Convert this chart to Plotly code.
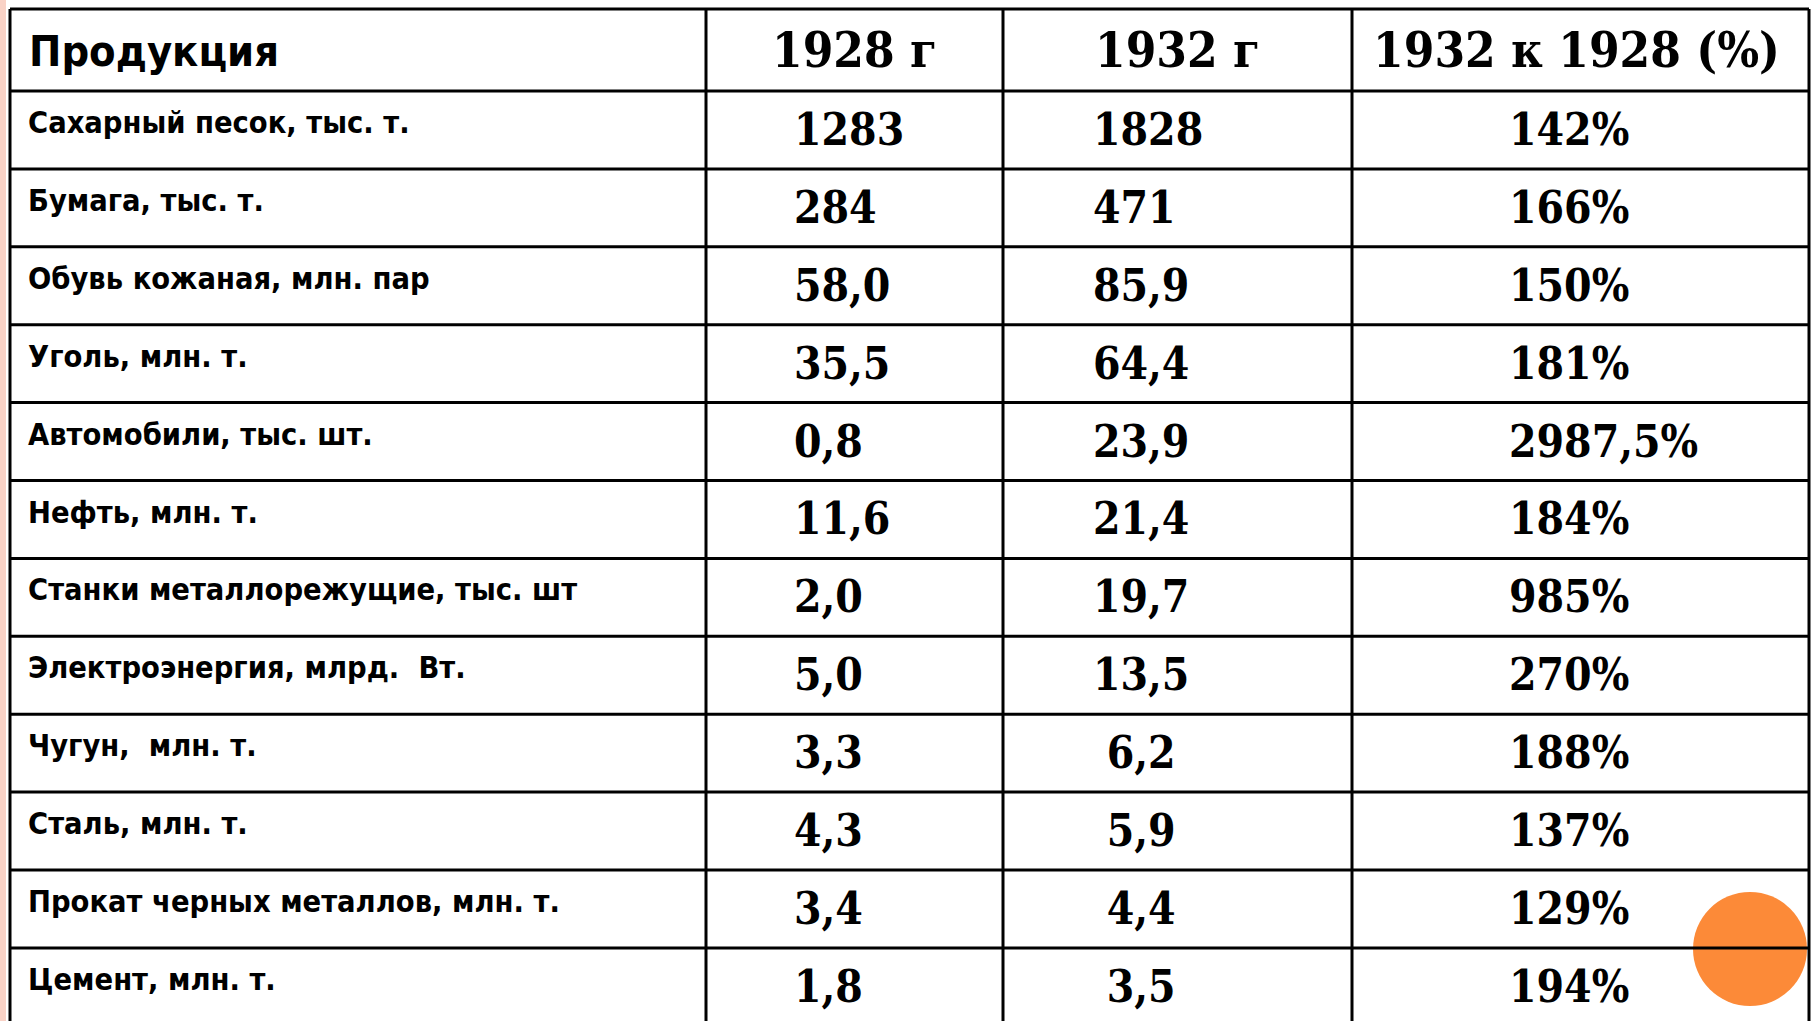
import plotly.graph_objects as go

# ---- data ----
header = ["Продукция", "1928 г", "1932 г", "1932 к 1928 (%)"]
products = [
    "Сахарный песок, тыс. т.",
    "Бумага, тыс. т.",
    "Обувь кожаная, млн. пар",
    "Уголь, млн. т.",
    "Автомобили, тыс. шт.",
    "Нефть, млн. т.",
    "Станки металлорежущие, тыс. шт",
    "Электроэнергия, млрд.  Вт.",
    "Чугун,  млн. т.",
    "Сталь, млн. т.",
    "Прокат черных металлов, млн. т.",
    "Цемент, млн. т.",
]
v1928 = ["1283", "284", "58,0", "35,5", "0,8", "11,6", "2,0", "5,0", "3,3", "4,3", "3,4", "1,8"]
v1932 = ["1828", "471", "85,9", "64,4", "23,9", "21,4", "19,7", "13,5", " 6,2", " 5,9", " 4,4", " 3,5"]
pct = ["142%", "166%", "150%", "181%", "2987,5%", "184%", "985%", "270%", "188%", "137%", "129%", "194%"]

# ---- layout geometry (pixels) ----
W, H = 1815, 1021
TOP = 9
HEADER_H = 82
ROW_H = 77.9
COL_EDGES = [10, 706, 1003, 1352, 1809]
TEXT_X = [28, 794, 1093, 1509]

SANS = "Liberation Sans Narrow, DejaVu Sans Condensed, Arial Narrow, sans-serif"
SERIF = "DejaVu Serif Condensed, DejaVu Serif, serif"

n = len(products)
row_top = [TOP + HEADER_H + i * ROW_H for i in range(n)]
row_mid = [t + ROW_H / 2 for t in row_top]

fig = go.Figure()

# left strip
fig.add_shape(type="rect", x0=0, x1=6, y0=0, y1=H, fillcolor="#f9d2c6", line_width=0, layer="below")

# orange circle (decoration)
fig.add_shape(type="circle", x0=1750 - 57, x1=1750 + 57, y0=949 - 57, y1=949 + 57,
              fillcolor="#fc8a38", line_width=0, layer="below")

# grid lines
hlines = [TOP, TOP + HEADER_H] + [t + ROW_H for t in row_top]
for y in hlines:
    if y <= H:
        fig.add_shape(type="line", x0=COL_EDGES[0], x1=COL_EDGES[-1], y0=y, y1=y,
                      line=dict(color="black", width=3))
for x in COL_EDGES:
    fig.add_shape(type="line", x0=x, x1=x, y0=TOP, y1=H + 5,
                  line=dict(color="black", width=3))

# header
hy = TOP + HEADER_H / 2
fig.add_trace(go.Scatter(x=[TEXT_X[0] + 1], y=[hy + 5], mode="text", text=[header[0]],
                         textposition="middle right",
                         textfont=dict(family=SANS, size=43, color="black", weight="bold"),
                         hoverinfo="skip"))
hcx = [(COL_EDGES[i] + COL_EDGES[i + 1]) / 2 for i in range(1, 4)]
hcx[2] -= 4
fig.add_trace(go.Scatter(x=hcx, y=[hy + 4.5] * 3, mode="text", text=header[1:],
                         textposition="middle center",
                         textfont=dict(family=SERIF, size=49, color="black", weight="bold"),
                         hoverinfo="skip"))

# body
fig.add_trace(go.Scatter(x=[TEXT_X[0]] * n, y=[m - 4.5 for m in row_mid], mode="text", text=products,
                         textposition="middle right",
                         textfont=dict(family=SANS, size=30.5, color="black", weight="bold"),
                         hoverinfo="skip"))
for col, vals in zip(TEXT_X[1:], [v1928, v1932, pct]):
    fig.add_trace(go.Scatter(x=[col] * n, y=[m + 4 for m in row_mid], mode="text", text=vals,
                             textposition="middle right",
                             textfont=dict(family=SERIF, size=44, color="black", weight="bold"),
                             hoverinfo="skip"))

fig.update_layout(
    width=W, height=H,
    margin=dict(l=0, r=0, t=0, b=0),
    paper_bgcolor="white", plot_bgcolor="white",
    showlegend=False,
    xaxis=dict(range=[0, W], visible=False, fixedrange=True),
    yaxis=dict(range=[H, 0], visible=False, fixedrange=True),
)

fig.write_html("out.html", config={"displayModeBar": False},
               post_script="document.body.style.margin='0';document.body.style.overflow='hidden';")
